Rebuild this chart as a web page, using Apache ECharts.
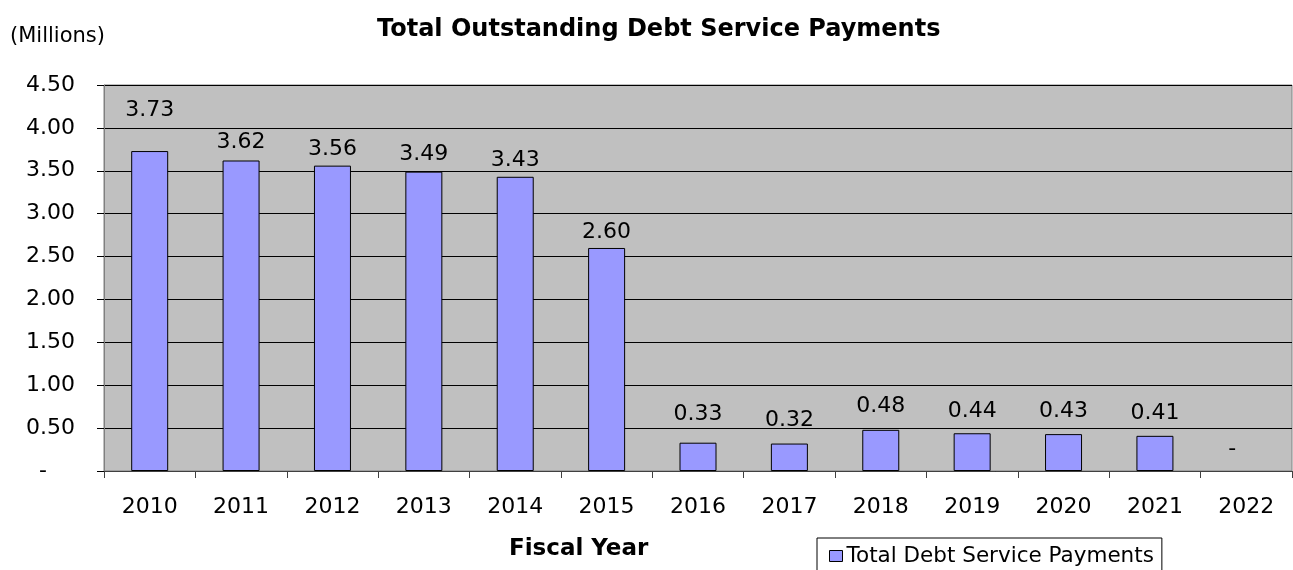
<!DOCTYPE html>
<html>
<head>
<meta charset="utf-8">
<title>Total Outstanding Debt Service Payments</title>
<script src="https://cdn.jsdelivr.net/npm/echarts@6/dist/echarts.min.js"></script>
<style>
  html, body { margin: 0; padding: 0; background: #ffffff; }
  #chart { width: 1293px; height: 570px; }
</style>
</head>
<body>
<div id="chart"></div>
<script>
// Fiscal years on the category axis
const fiscalYears = ['2010', '2011', '2012', '2013', '2014', '2015', '2016',
                     '2017', '2018', '2019', '2020', '2021', '2022'];

// Total debt service payments per fiscal year, in millions
const debtServicePayments = [3.73, 3.62, 3.56, 3.49, 3.43, 2.60, 0.33,
                             0.32, 0.48, 0.44, 0.43, 0.41, 0];

// Value axis ticks (millions)
const valueTicks = { min: 0, max: 4.5, step: 0.5 };

// Vertical gap (px) between each bar top and its value label baseline
const labelLift = [34, 11, 9, 10, 10, 9, 21, 16, 17, 15, 16, 16, 15];

const FONT = "'DejaVu Sans', 'Liberation Sans', Arial, sans-serif";
// accounting style: zero shows as a dash
const fmtMillions = v => (v === 0 ? '-    ' : v.toFixed(2));

const chart = echarts.init(document.getElementById('chart'), null, { renderer: 'canvas' });

chart.setOption({
  animation: false,
  backgroundColor: '#ffffff',
  textStyle: { fontFamily: FONT },
  title: [
    {
      text: 'Total Outstanding Debt Service Payments',
      left: 372, top: 13,
      textStyle: { fontFamily: FONT, fontSize: 24, fontWeight: 'bold', color: '#000' }
    },
    {
      text: '(Millions)',
      left: 5, top: 21,
      textStyle: { fontFamily: FONT, fontSize: 21, fontWeight: 'normal', color: '#000' }
    },
    {
      text: 'Fiscal Year',
      left: 504, top: 533,
      textStyle: { fontFamily: FONT, fontSize: 23, fontWeight: 'bold', color: '#000' }
    }
  ],
  legend: {
    left: 817, top: 538,
    padding: [7, 8, 12, 12],
    itemGap: 6,
    itemWidth: 13, itemHeight: 11,
    borderColor: '#000', borderWidth: 1,
    backgroundColor: '#fff',
    icon: 'rect',
    itemStyle: { color: '#9999FF', borderColor: '#000', borderWidth: 1 },
    textStyle: { fontFamily: FONT, fontSize: 21.5, color: '#000', padding: [0, 0, 0, -1] },
    data: ['Total Debt Service Payments']
  },
  grid: {
    left: 104, right: 1, top: 85, bottom: 99,
    show: true,
    backgroundColor: '#C0C0C0',
    borderColor: '#808080',
    borderWidth: 1,
    containLabel: false
  },
  xAxis: {
    type: 'category',
    data: fiscalYears,
    boundaryGap: true,
    axisLine: { show: true, lineStyle: { color: '#404040', width: 1 } },
    axisTick: { show: true, length: 7, alignWithLabel: false, lineStyle: { color: '#404040' } },
    axisLabel: { margin: 25, fontFamily: FONT, fontSize: 22, color: '#000' },
    splitLine: { show: false }
  },
  yAxis: {
    type: 'value',
    min: valueTicks.min,
    max: valueTicks.max,
    interval: valueTicks.step,
    axisLine: { show: true, lineStyle: { color: '#808080', width: 1 } },
    axisTick: { show: true, length: 7, lineStyle: { color: '#000' } },
    axisLabel: {
      margin: 29, fontFamily: FONT, fontSize: 22, color: '#000',
      formatter: v => fmtMillions(v)
    },
    splitLine: { show: true, lineStyle: { color: '#000', width: 1 } }
  },
  series: [
    {
      name: 'Total Debt Service Payments',
      type: 'bar',
      barWidth: 37,
      itemStyle: { color: '#9999FF', borderColor: '#000', borderWidth: 1 },
      data: debtServicePayments.map((v, i) => ({
        value: v,
        // a zero-height bar leaves no outline behind
        itemStyle: v === 0 ? { borderWidth: 0 } : undefined,
        label: { distance: labelLift[i] - 4 }
      })),
      label: {
        show: true,
        position: 'top',
        fontFamily: FONT,
        fontSize: 22,
        color: '#000',
        formatter: p => fmtMillions(p.value)
      }
    }
  ]
});
</script>
</body>
</html>
